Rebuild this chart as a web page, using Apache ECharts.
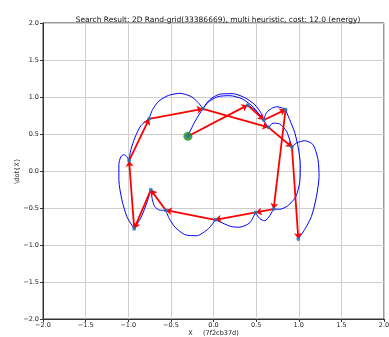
<!DOCTYPE html>
<html><head><meta charset="utf-8">
<script src="https://cdn.jsdelivr.net/npm/echarts@6/dist/echarts.min.js"></script>
<style>html,body{margin:0;padding:0;background:#fff}#c{width:389px;height:337px}</style>
</head><body><div id="c"></div>
<script>
// Node path (order of the search result), start first
const pathX = [-0.30, 0.40, 0.59, 0.845, 0.705, 0.495, 0.02, -0.56, -0.735, -0.93, -0.99, -0.755, -0.125, 0.645, 0.92, 0.995];
const pathY = [0.47, 0.89, 0.69, 0.83, -0.515, -0.56, -0.66, -0.53, -0.255, -0.78, 0.14, 0.705, 0.84, 0.59, 0.325, -0.92];
// Trajectory curves
const trajA = [[-0.301,0.477],[-0.219,0.666],[-0.125,0.842],[-0.043,0.964],[0.074,1.038],[0.226,1.045],[0.367,0.991],[0.484,0.896],[0.555,0.788],[0.590,0.693]];
const trajB = [[0.398,0.896],[0.496,0.815],[0.590,0.693]];
const trajC = [[0.590,0.693],[0.621,0.788],[0.680,0.845],[0.740,0.868],[0.800,0.855],[0.844,0.828]];
const trajD = [[0.844,0.828],[0.894,0.693],[0.953,0.518],[0.994,0.315],[1.018,0.085],[1.012,-0.145],[0.965,-0.348],[0.871,-0.470],[0.777,-0.517],[0.703,-0.514]];
const trajE = [[0.703,-0.514],[0.660,-0.604],[0.601,-0.672],[0.543,-0.645],[0.492,-0.559]];
const trajF = [[0.492,-0.559],[0.426,-0.699],[0.308,-0.759],[0.215,-0.753],[0.109,-0.705],[0.023,-0.658]];
const trajG = [[0.023,-0.658],[-0.060,-0.780],[-0.200,-0.875],[-0.336,-0.860],[-0.450,-0.760],[-0.520,-0.640],[-0.559,-0.532]];
const trajH = [[-0.559,-0.532],[-0.630,-0.530],[-0.688,-0.482],[-0.717,-0.388],[-0.735,-0.253]];
const trajI = [[-0.735,-0.253],[-0.782,-0.430],[-0.841,-0.605],[-0.899,-0.727],[-0.931,-0.780]];
const trajJ = [[-0.931,-0.780],[-1.016,-0.617],[-1.075,-0.388],[-1.110,-0.118],[-1.110,0.085],[-1.087,0.193],[-1.052,0.220],[-1.016,0.193],[-0.993,0.139]];
const trajK = [[-0.993,0.139],[-0.969,0.288],[-0.922,0.450],[-0.852,0.612],[-0.755,0.707]];
const trajL = [[-0.755,0.707],[-0.715,0.830],[-0.640,0.945],[-0.530,1.020],[-0.395,1.050],[-0.260,1.005],[-0.180,0.925],[-0.125,0.842]];
const trajM = [[-0.125,0.842],[-0.055,0.937],[0.050,1.004],[0.191,1.018],[0.332,0.977],[0.449,0.882],[0.531,0.774],[0.590,0.680],[0.645,0.589]];
const trajN = [[0.645,0.589],[0.699,0.646],[0.777,0.635],[0.856,0.538],[0.905,0.38],[0.921,0.324]];
const trajO = [[0.921,0.324],[0.973,0.378],[1.070,0.409],[1.168,0.355],[1.226,0.153],[1.238,-0.073],[1.208,-0.343],[1.149,-0.614],[1.070,-0.790],[0.992,-0.919]];
const trajectories = [trajA, trajB, trajC, trajD, trajE, trajF, trajG, trajH, trajI, trajJ, trajK, trajL, trajM, trajN, trajO];
const axisTicks = [-2.0, -1.5, -1.0, -0.5, 0.0, 0.5, 1.0, 1.5, 2.0];
const titleText = 'Search Result: 2D Rand-grid(33386669), multi heuristic, cost: 12.0 (energy)';

const FONT = 'DejaVu Sans';
const fmt = v => (v < 0 ? '\u2212' : '') + Math.abs(v).toFixed(1);
const series = [];
trajectories.forEach(t => series.push({
  type: 'line', data: t, smooth: 0.25, showSymbol: false, silent: true, z: 2,
  lineStyle: {color: '#0000ff', width: 1}
}));
const arrows = [];
for (let i = 0; i < pathX.length - 1; i++) {
  arrows.push({coords: [[pathX[i], pathY[i]], [pathX[i+1], pathY[i+1]]]});
}
series.push({
  type: 'lines', coordinateSystem: 'cartesian2d', data: arrows, z: 3,
  symbol: ['none', 'arrow'], symbolSize: 6,
  lineStyle: {color: '#ff0000', width: 1.8, opacity: 1}
});
series.push({
  type: 'scatter', data: [[pathX[0], pathY[0]]], symbolSize: 9, z: 4,
  itemStyle: {color: '#1e8c1e'}
});
series.push({
  type: 'scatter', data: pathX.map((x, i) => [x, pathY[i]]), symbolSize: 4, z: 5,
  itemStyle: {color: '#1f77b4'}
});
const axisCommon = {
  type: 'value', min: -2, max: 2, interval: 0.5,
  axisLine: {show: true, onZero: false, lineStyle: {color: '#333', width: 1}},
  axisTick: {show: true, length: 3, lineStyle: {color: '#333'}},
  splitLine: {show: true, lineStyle: {color: '#cfcfcf', width: 1}},
  axisLabel: {fontFamily: FONT, fontSize: 6.5, color: '#222', formatter: fmt},
  nameTextStyle: {fontFamily: FONT, fontSize: 6.5, color: '#222'},
  nameMoveOverlap: false
};
const chart = echarts.init(document.getElementById('c'), null, {renderer: 'canvas'});
chart.setOption({
  animation: false,
  backgroundColor: '#fff',
  title: {text: titleText, left: 213, top: 11, textAlign: 'center',
    textStyle: {fontFamily: FONT, fontSize: 7.5, fontWeight: 'normal', color: '#111'}},
  grid: {left: 43, right: 5, top: 23, bottom: 18, show: true, borderColor: '#333', borderWidth: 1,
    containLabel: false, outerBoundsMode: 'none'},
  xAxis: Object.assign({}, axisCommon, {name: 'X     (7f2cb37d)', nameLocation: 'middle', nameGap: 11,
    axisLabel: Object.assign({}, axisCommon.axisLabel, {margin: 3})}),
  yAxis: Object.assign({}, axisCommon, {name: '\\dot{X}', nameLocation: 'middle', nameGap: 22,
    axisLabel: Object.assign({}, axisCommon.axisLabel, {margin: 4})}),
  series: series
});
</script></body></html>
